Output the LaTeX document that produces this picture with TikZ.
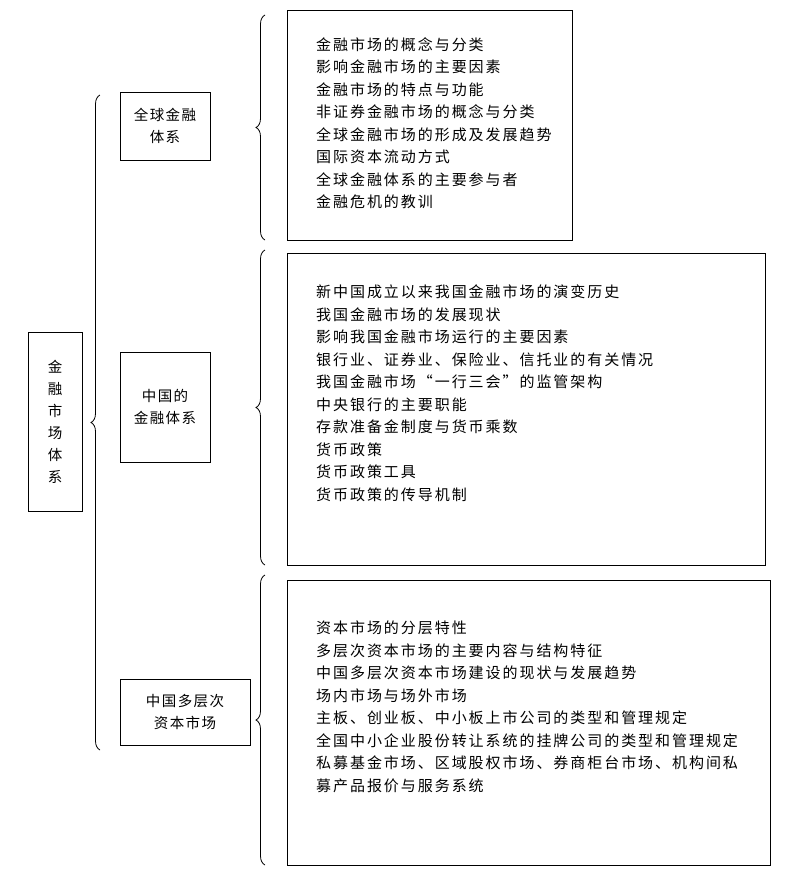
\documentclass[tikz,border=0pt]{standalone}
\usepackage{fontspec}
\setmainfont{Noto Sans CJK SC}
\usetikzlibrary{decorations.pathreplacing}
\tikzset{%
  topic/.style = {draw, thick, align=center, inner sep=0pt,%
                  font=\fontsize{14.5}{22}\selectfont\addfontfeature{LetterSpace=10}},%
  panel/.style = {draw, thick, inner sep=0pt},%
  items/.style = {anchor=north west, align=left, inner sep=0pt,%
                  font=\fontsize{15}{22.5}\selectfont\addfontfeature{LetterSpace=13}},%
  bracket/.style = {decorate, decoration={brace, amplitude=9pt}, thick}%
}
\begin{document}
\begin{tikzpicture}[x=1pt, y=-1pt]
	\useasboundingbox (0,0) rectangle (800,876);
	% root
	\node (root) [topic, minimum width=54pt, minimum height=179pt] at (55,422)
		{金\\融\\市\\场\\体\\系};
	\draw [bracket] (100,750) -- (100,95);
	% level one
	\node (world) [topic, minimum width=90pt, minimum height=68pt] at (165,126)
		{全球金融\\体系};
	\node (china) [topic, minimum width=90pt, minimum height=110pt] at (165,407)
		{中国的\\金融体系};
	\node (multi) [topic, minimum width=130pt, minimum height=66pt] at (185,712)
		{中国多层次\\资本市场};
	% braces
	\draw [bracket] (265,240) -- (265,15);
	\draw [bracket] (265,565) -- (265,250);
	\draw [bracket] (265,865) -- (265,575);
	% panels
	\node (p1) [panel, minimum width=285pt, minimum height=230pt] at (429.5,125) {};
	\node (p2) [panel, minimum width=478pt, minimum height=312pt] at (526,409) {};
	\node (p3) [panel, minimum width=483pt, minimum height=285pt] at (528.5,722.5) {};
	\node (t1) [items] at (316,37) {金融市场的概念与分类\\影响金融市场的主要因素\\金融市场的特点与功能\\非证券金融市场的概念与分类\\全球金融市场的形成及发展趋势\\国际资本流动方式\\全球金融体系的主要参与者\\金融危机的教训};
	\node (t2) [items] at (316,285) {新中国成立以来我国金融市场的演变历史\\我国金融市场的发展现状\\影响我国金融市场运行的主要因素\\银行业、证券业、保险业、信托业的有关情况\\我国金融市场“一行三会”的监管架构\\中央银行的主要职能\\存款准备金制度与货币乘数\\货币政策\\货币政策工具\\货币政策的传导机制};
	\node (t3) [items] at (316,621) {资本市场的分层特性\\多层次资本市场的主要内容与结构特征\\中国多层次资本市场建设的现状与发展趋势\\场内市场与场外市场\\主板、创业板、中小板上市公司的类型和管理规定\\全国中小企业股份转让系统的挂牌公司的类型和管理规定\\私募基金市场、区域股权市场、券商柜台市场、机构间私\\募产品报价与服务系统};
\end{tikzpicture}
\end{document}
